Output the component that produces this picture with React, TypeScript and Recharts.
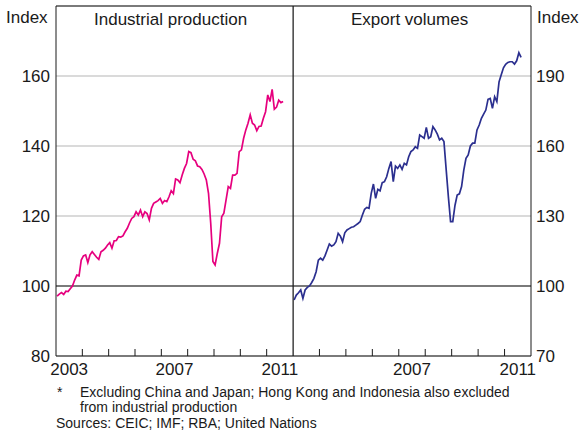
import { LineChart, Line, XAxis, YAxis, CartesianGrid, ReferenceLine } from "recharts";

// monthly, from Jan 2003
const firstYear = 2003;
const lastYear = 2012;

const industrial = [
  97.1, 97.7, 98.1, 97.6, 98.5, 98.4, 99.2, 100.0, 101.7, 103.1, 102.9, 107.4,
  108.6, 108.9, 106.7, 108.9, 109.8, 109.0, 108.2, 107.6, 109.8, 110.2, 110.8, 111.7,
  112.4, 110.8, 112.9, 113.0, 114.1, 114.0, 114.3, 115.5, 116.5, 118.0, 119.3, 119.8,
  121.2, 120.3, 121.7, 119.8, 121.2, 120.7, 118.9, 122.2, 123.6, 124.0, 124.4, 125.0,
  123.6, 124.4, 124.1, 125.5, 127.2, 126.4, 130.6, 130.3, 129.5, 131.7, 133.6, 135.0,
  138.4, 138.1, 136.2, 135.8, 134.3, 134.1, 133.3, 132.0, 130.3, 126.5, 118.0, 107.0,
  106.0, 109.3, 112.2, 119.8, 120.8, 124.6, 128.4, 127.9, 131.7, 131.7, 132.2, 138.4,
  138.9, 142.2, 144.6, 146.5, 148.9, 146.5, 146.0, 144.4, 145.6, 145.7, 147.9, 149.8,
  154.6, 152.7, 156.2, 150.5, 151.1, 153.1, 152.4, 152.7,
];

const exports = [
  94.0, 96.1, 97.1, 98.3, 94.7, 98.3, 99.4, 100.0, 101.5, 103.3, 106.1, 111.1,
  111.9, 111.1, 112.9, 115.4, 118.0, 117.1, 117.6, 119.0, 122.6, 121.4, 119.0, 122.8,
  124.0, 124.6, 125.2, 125.4, 126.1, 126.8, 127.6, 130.4, 132.9, 133.7, 133.3, 139.7,
  143.7, 137.6, 141.4, 140.8, 144.3, 144.7, 146.8, 150.4, 153.3, 144.7, 151.4, 150.4,
  151.9, 150.0, 152.6, 151.9, 155.4, 157.6, 158.3, 159.7, 159.0, 164.7, 164.0, 163.3,
  168.0, 163.3, 164.0, 168.3, 166.9, 165.1, 162.6, 163.3, 161.9, 150.0, 138.3, 127.6,
  127.6, 134.5, 139.0, 139.5, 142.6, 149.7, 154.7, 156.2, 160.0, 161.2, 161.2, 166.9,
  169.0, 171.9, 173.7, 175.4, 180.0, 180.4, 176.1, 181.1, 179.0, 187.5, 190.5, 193.5,
  195.0, 195.8, 196.1, 196.1, 195.1, 196.5, 200.0, 198.0,
];

const leftTicks = [80, 100, 120, 140, 160];
const rightTicks = [70, 100, 130, 160, 190];
const tickYears = [2004, 2005, 2006, 2007, 2008, 2009, 2010, 2011];
const leftLabelYears = [2003, 2007, 2011];
const rightLabelYears = [2007, 2011];

const ipData = industrial.map((v, i) => ({ t: firstYear + (i + 0.5) / 12, v }));
const exData = exports.map((v, i) => ({ t: firstYear + (i + 0.5) / 12, v }));

const makeTicks = (labels: number[]) =>
  [...tickYears, ...labels.map((y) => y + 0.5)].sort((a, b) => a - b);

const ink = "#1a1a1a";
const font = "'Liberation Sans', Arial, sans-serif";

const YearTick = (props: any) => {
  const { x, y, payload } = props;
  const v = payload.value;
  if (Number.isInteger(v)) {
    return <line x1={x} x2={x} y1={y} y2={y - 7} stroke={ink} strokeWidth={1} />;
  }
  return (
    <text x={x} y={y + 19} textAnchor="middle" fontSize={17} fill={ink} fontFamily={font}>
      {Math.floor(v)}
    </text>
  );
};

const labelStyle: React.CSSProperties = {
  position: "absolute",
  fontSize: 17,
  color: ink,
  lineHeight: "20px",
  whiteSpace: "nowrap",
};

const noteStyle: React.CSSProperties = {
  position: "absolute",
  fontSize: 14,
  color: ink,
  lineHeight: "15px",
  whiteSpace: "nowrap",
};

const App = () => {
  return (
    <div
      style={{
        position: "absolute",
        left: 0,
        top: 0,
        width: 579,
        height: 435,
        background: "#fff",
        fontFamily: font,
        overflow: "hidden",
      }}
    >
      <div style={{ position: "absolute", left: 293, top: 0 }}>
        <LineChart width={286} height={400} data={exData} margin={{ top: 6, right: 0, bottom: 0, left: 0 }}>
          <CartesianGrid vertical={false} stroke="#b5b5b5" />
          <XAxis
            dataKey="t"
            type="number"
            domain={[firstYear, lastYear]}
            ticks={makeTicks(rightLabelYears)}
            interval={0}
            height={44}
            tickLine={false}
            tickSize={0}
            tickMargin={0}
            axisLine={{ stroke: ink }}
            tick={(p: any) => <YearTick {...p} />}
            allowDataOverflow
          />
          <YAxis
            orientation="right"
            domain={[70, 220]}
            ticks={rightTicks}
            width={48}
            tickLine={false}
            tickSize={0}
            tickMargin={5}
            axisLine={{ stroke: ink }}
            tick={{ fontSize: 17, fill: ink, fontFamily: font, textAnchor: "start" }}
            allowDataOverflow
          />
          <ReferenceLine y={100} stroke={ink} />
          <ReferenceLine y={220} stroke={ink} />
          <ReferenceLine x={firstYear} stroke={ink} />
          <Line
            type="linear"
            dataKey="v"
            stroke="#2b2f8f"
            strokeWidth={1.7}
            dot={false}
            isAnimationActive={false}
          />
        </LineChart>
      </div>

      <div style={{ position: "absolute", left: 0, top: 0 }}>
        <LineChart width={300} height={400} data={ipData} margin={{ top: 6, right: 7, bottom: 0, left: 0 }}>
          <CartesianGrid vertical={false} stroke="#b5b5b5" />
          <XAxis
            dataKey="t"
            type="number"
            domain={[firstYear, lastYear]}
            ticks={makeTicks(leftLabelYears)}
            interval={0}
            height={44}
            tickLine={false}
            tickSize={0}
            tickMargin={0}
            axisLine={{ stroke: ink }}
            tick={(p: any) => <YearTick {...p} />}
            allowDataOverflow
          />
          <YAxis
            domain={[80, 180]}
            ticks={leftTicks}
            width={56}
            tickLine={false}
            tickSize={0}
            tickMargin={6}
            axisLine={{ stroke: ink }}
            tick={{ fontSize: 17, fill: ink, fontFamily: font }}
            allowDataOverflow
          />
          <ReferenceLine y={100} stroke={ink} />
          <ReferenceLine y={180} stroke={ink} />
          <ReferenceLine x={lastYear} stroke={ink} />
          <Line
            type="linear"
            dataKey="v"
            stroke="#e6007e"
            strokeWidth={1.7}
            dot={false}
            isAnimationActive={false}
          />
        </LineChart>
      </div>

      <div style={{ ...labelStyle, left: 6, top: 8 }}>Index</div>
      <div style={{ ...labelStyle, left: 537, top: 8 }}>Index</div>
      <div style={{ ...labelStyle, left: 94, top: 10 }}>Industrial production</div>
      <div style={{ ...labelStyle, left: 351, top: 10 }}>Export volumes</div>

      <div style={{ ...noteStyle, left: 57, top: 385 }}>*</div>
      <div style={{ ...noteStyle, left: 80, top: 385 }}>
        Excluding China and Japan; Hong Kong and Indonesia also excluded
      </div>
      <div style={{ ...noteStyle, left: 80, top: 400 }}>from industrial production</div>
      <div style={{ ...noteStyle, left: 56, top: 416 }}>Sources: CEIC; IMF; RBA; United Nations</div>
    </div>
  );
};

export default App;
